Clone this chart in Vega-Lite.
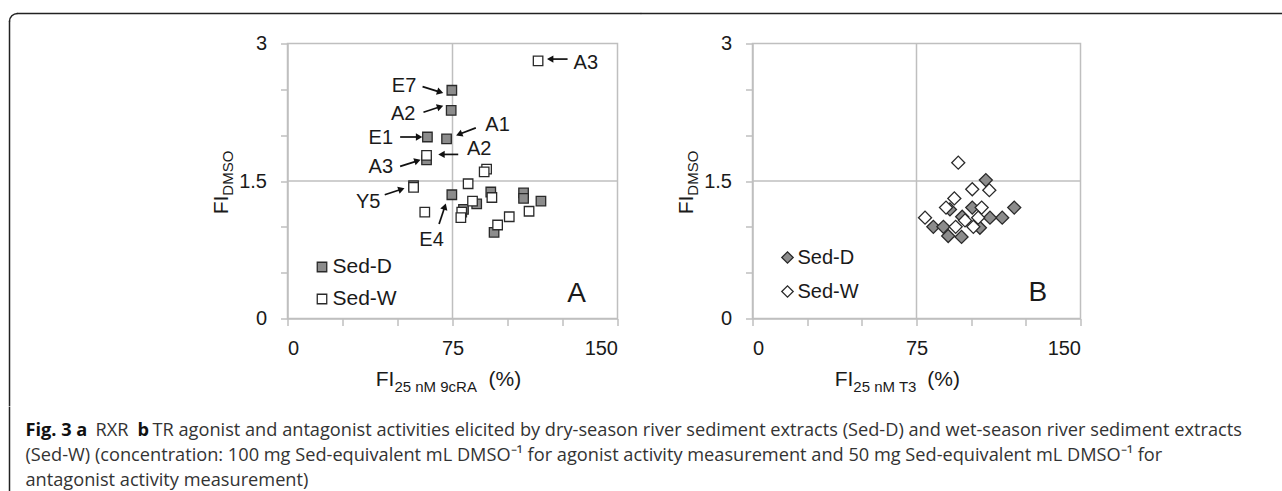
{
  "$schema": "https://vega.github.io/schema/vega-lite/v6.json",
  "padding": {"left": 7.5, "top": 11.5, "right": 0, "bottom": 0},
  "background": "white",
  "config": {
    "font": "Liberation Sans",
    "view": {"stroke": "#bfbfbf", "strokeWidth": 1.5},
    "axis": {
      "domainColor": "#bfbfbf", "domainWidth": 1.5, "tickColor": "#bfbfbf", "tickWidth": 1.5, "tickSize": 7,
      "labelFont": "Liberation Sans", "labelFontSize": 20, "labelColor": "#1a1a1a", "grid": false, "title": null
    },
    "axisX": {"labelPadding": 13},
    "axisY": {"labelPadding": 14},
    "legend": {
      "labelFont": "Liberation Sans", "labelFontSize": 21, "labelColor": "#1a1a1a",
      "symbolStrokeColor": "#2a2a2a", "symbolStrokeWidth": 1.3, "title": null
    }
  },
  "spacing": -3,
  "vconcat": [
    {
      "spacing": -3,
      "resolve": {"scale": {"fill": "independent", "x": "independent", "y": "independent"}, "legend": {"fill": "independent"}},
      "hconcat": [
        {
          "width": 330,
          "height": 275,
          "layer": [
            {
              "data": {"values": [{"x1": -122.73, "x2": 160.45, "y": 3.327}]},
              "mark": {"type": "rule", "color": "#222222", "strokeWidth": 1.5, "strokeCap": "square", "clip": false},
              "encoding": {"x": {"field": "x1", "type": "quantitative", "title": null}, "x2": {"field": "x2"}, "y": {"field": "y", "type": "quantitative", "title": null}}
            },
            {
              "data": {"values": [{"x": -126.36, "y1": 3.24, "y2": -0.949}]},
              "mark": {"type": "rule", "color": "#222222", "strokeWidth": 1.5, "strokeCap": "square", "clip": false},
              "encoding": {"x": {"field": "x", "type": "quantitative", "title": null}, "y": {"field": "y1", "type": "quantitative", "title": null}, "y2": {"field": "y2"}}
            },
            {
              "data": {"values": [{"x": -122.73, "y": 3.24}]},
              "mark": {"type": "arc", "color": "#222222", "radius": 8.75, "radius2": 7.25, "theta": 4.712389, "theta2": 6.283185, "clip": false},
              "encoding": {"x": {"field": "x", "type": "quantitative", "title": null}, "y": {"field": "y", "type": "quantitative", "title": null}}
            },
            {
              "data": {"values": [{"v": 75}]},
              "mark": {"type": "rule", "color": "#bfbfbf", "strokeWidth": 1.5},
              "encoding": {"x": {"field": "v", "type": "quantitative", "title": null, "scale": {"domain": [0, 150], "nice": false}}}
            },
            {
              "data": {"values": [{"v": 1.5}]},
              "mark": {"type": "rule", "color": "#bfbfbf", "strokeWidth": 1.5},
              "encoding": {"y": {"field": "v", "type": "quantitative", "title": null, "scale": {"domain": [0, 3], "nice": false}}}
            },
            {
              "data": {"values": [
                {"s": "Sed-D", "fi9": 74.7, "dmso": 2.49},
                {"s": "Sed-D", "fi9": 74.4, "dmso": 2.27},
                {"s": "Sed-D", "fi9": 63.6, "dmso": 1.98},
                {"s": "Sed-D", "fi9": 72.3, "dmso": 1.96},
                {"s": "Sed-D", "fi9": 63.2, "dmso": 1.73},
                {"s": "Sed-D", "fi9": 57.3, "dmso": 1.45},
                {"s": "Sed-D", "fi9": 74.7, "dmso": 1.35},
                {"s": "Sed-D", "fi9": 80.0, "dmso": 1.19},
                {"s": "Sed-D", "fi9": 86.0, "dmso": 1.25},
                {"s": "Sed-D", "fi9": 92.4, "dmso": 1.38},
                {"s": "Sed-D", "fi9": 107.3, "dmso": 1.37},
                {"s": "Sed-D", "fi9": 107.3, "dmso": 1.31},
                {"s": "Sed-D", "fi9": 115.2, "dmso": 1.28},
                {"s": "Sed-D", "fi9": 93.9, "dmso": 0.94},
                {"s": "Sed-W", "fi9": 113.9, "dmso": 2.81},
                {"s": "Sed-W", "fi9": 63.2, "dmso": 1.78},
                {"s": "Sed-W", "fi9": 90.5, "dmso": 1.63},
                {"s": "Sed-W", "fi9": 89.4, "dmso": 1.60},
                {"s": "Sed-W", "fi9": 57.3, "dmso": 1.43},
                {"s": "Sed-W", "fi9": 82.1, "dmso": 1.47},
                {"s": "Sed-W", "fi9": 92.9, "dmso": 1.32},
                {"s": "Sed-W", "fi9": 84.1, "dmso": 1.28},
                {"s": "Sed-W", "fi9": 79.2, "dmso": 1.16},
                {"s": "Sed-W", "fi9": 78.8, "dmso": 1.10},
                {"s": "Sed-W", "fi9": 62.4, "dmso": 1.16},
                {"s": "Sed-W", "fi9": 95.5, "dmso": 1.02},
                {"s": "Sed-W", "fi9": 100.8, "dmso": 1.11},
                {"s": "Sed-W", "fi9": 109.8, "dmso": 1.17}
              ]},
              "mark": {"type": "point", "shape": "square", "filled": true, "size": 90, "stroke": "#2a2a2a", "strokeWidth": 1.3, "opacity": 1},
              "encoding": {
                "x": {"field": "fi9", "type": "quantitative", "title": null, "scale": {"domain": [0, 150], "nice": false},
                  "axis": {"title": null, "values": [0, 25, 50, 75, 100, 125, 150], "labelExpr": "datum.value == 0 ? '0' : datum.value == 75 ? '75' : datum.value == 150 ? '150' : ''"}},
                "y": {"field": "dmso", "type": "quantitative", "title": null, "scale": {"domain": [0, 3], "nice": false},
                  "axis": {"title": null, "values": [0, 0.5, 1, 1.5, 2, 2.5, 3], "labelExpr": "datum.value == 0 ? '0' : datum.value == 1.5 ? '1.5' : datum.value == 3 ? '3' : ''"}},
                "fill": {"field": "s", "type": "nominal", "scale": {"domain": ["Sed-D", "Sed-W"], "range": ["#8c8c8c", "#ffffff"]},
                  "legend": {"orient": "none", "legendX": 24, "legendY": 213, "symbolType": "square", "symbolSize": 90, "rowPadding": 10, "labelOffset": 0}}
              }
            },
            {
              "data": {"values": [
                {"label": "E7", "tx": 53.0, "ty": 2.54, "x1": 61.4, "y1": 2.53, "x2": 69.4, "y2": 2.47},
                {"label": "A2", "tx": 52.6, "ty": 2.23, "x1": 61.8, "y1": 2.25, "x2": 69.4, "y2": 2.31},
                {"label": "E1", "tx": 42.4, "ty": 1.97, "x1": 51.2, "y1": 1.98, "x2": 59.8, "y2": 1.98},
                {"label": "A1", "tx": 95.5, "ty": 2.11, "x1": 85.6, "y1": 2.08, "x2": 78.0, "y2": 2.01},
                {"label": "A2", "tx": 87.1, "ty": 1.85, "x1": 77.6, "y1": 1.79, "x2": 70.0, "y2": 1.79},
                {"label": "A3", "tx": 42.4, "ty": 1.65, "x1": 51.2, "y1": 1.66, "x2": 59.1, "y2": 1.72},
                {"label": "Y5", "tx": 36.7, "ty": 1.27, "x1": 44.2, "y1": 1.35, "x2": 51.8, "y2": 1.41},
                {"label": "E4", "tx": 65.5, "ty": 0.86, "x1": 68.9, "y1": 1.03, "x2": 71.5, "y2": 1.22},
                {"label": "A3", "tx": 135.6, "ty": 2.79, "x1": 127.3, "y1": 2.83, "x2": 119.4, "y2": 2.83}
              ]},
              "layer": [
                {
                  "mark": {"type": "rule", "color": "#111111", "strokeWidth": 1.7},
                  "encoding": {
                    "x": {"field": "x1", "type": "quantitative", "title": null},
                    "y": {"field": "y1", "type": "quantitative", "title": null},
                    "x2": {"field": "x2"},
                    "y2": {"field": "y2"}
                  }
                },
                {
                  "mark": {"type": "point", "shape": "triangle-up", "filled": true, "color": "#111111", "size": 55, "opacity": 1,
                    "angle": {"expr": "atan2((datum.x2 - datum.x1) * 2.2, (datum.y2 - datum.y1) * 91.67) * 180 / PI"}},
                  "encoding": {
                    "x": {"field": "x2", "type": "quantitative", "title": null},
                    "y": {"field": "y2", "type": "quantitative", "title": null}
                  }
                },
                {
                  "mark": {"type": "text", "fontSize": 20, "color": "#1a1a1a", "clip": false},
                  "encoding": {
                    "x": {"field": "tx", "type": "quantitative", "title": null},
                    "y": {"field": "ty", "type": "quantitative", "title": null},
                    "text": {"field": "label"}
                  }
                }
              ]
            },
            {
              "data": {"values": [{"t": "A", "x": 131.4, "y": 0.27}]},
              "mark": {"type": "text", "fontSize": 28, "color": "#1a1a1a"},
              "encoding": {"x": {"field": "x", "type": "quantitative", "title": null}, "y": {"field": "y", "type": "quantitative", "title": null}, "text": {"field": "t"}}
            },
            {
              "data": {"values": [{"t": "FI", "x": -27, "y": 1.34}]},
              "mark": {"type": "text", "fontSize": 21, "color": "#1a1a1a", "angle": 270, "align": "right", "baseline": "alphabetic", "clip": false},
              "encoding": {"x": {"field": "x", "type": "quantitative", "title": null}, "y": {"field": "y", "type": "quantitative", "title": null}, "text": {"field": "t"}}
            },
            {
              "data": {"values": [{"t": "DMSO", "x": -27, "y": 1.34}]},
              "mark": {"type": "text", "fontSize": 15, "color": "#1a1a1a", "angle": 270, "align": "left", "baseline": "alphabetic", "dy": 5, "clip": false},
              "encoding": {"x": {"field": "x", "type": "quantitative", "title": null}, "y": {"field": "y", "type": "quantitative", "title": null}, "text": {"field": "t"}}
            },
            {
              "data": {"values": [{"t": "FI", "x": 48.6, "y": -0.74}]},
              "mark": {"type": "text", "fontSize": 21, "color": "#1a1a1a", "align": "right", "baseline": "alphabetic", "clip": false},
              "encoding": {"x": {"field": "x", "type": "quantitative", "title": null}, "y": {"field": "y", "type": "quantitative", "title": null}, "text": {"field": "t"}}
            },
            {
              "data": {"values": [{"t": "25 nM 9cRA", "x": 48.6, "y": -0.74}]},
              "mark": {"type": "text", "fontSize": 15, "color": "#1a1a1a", "align": "left", "baseline": "alphabetic", "dy": 6, "clip": false},
              "encoding": {"x": {"field": "x", "type": "quantitative", "title": null}, "y": {"field": "y", "type": "quantitative", "title": null}, "text": {"field": "t"}}
            },
            {
              "data": {"values": [{"t": "(%)", "x": 91.4, "y": -0.74}]},
              "mark": {"type": "text", "fontSize": 21, "color": "#1a1a1a", "align": "left", "baseline": "alphabetic", "clip": false},
              "encoding": {"x": {"field": "x", "type": "quantitative", "title": null}, "y": {"field": "y", "type": "quantitative", "title": null}, "text": {"field": "t"}}
            }
          ]
        },
        {
          "width": 328,
          "height": 275,
          "layer": [
            {
              "data": {"values": [{"x1": -50.76, "x2": 242.3, "y": 3.327}]},
              "mark": {"type": "rule", "color": "#222222", "strokeWidth": 1.5, "strokeCap": "square", "clip": false},
              "encoding": {"x": {"field": "x1", "type": "quantitative", "title": null}, "x2": {"field": "x2"}, "y": {"field": "y", "type": "quantitative", "title": null}}
            },
            {
              "data": {"values": [{"v": 75}]},
              "mark": {"type": "rule", "color": "#bfbfbf", "strokeWidth": 1.5},
              "encoding": {"x": {"field": "v", "type": "quantitative", "title": null, "scale": {"domain": [0, 150], "nice": false}}}
            },
            {
              "data": {"values": [{"v": 1.5}]},
              "mark": {"type": "rule", "color": "#bfbfbf", "strokeWidth": 1.5},
              "encoding": {"y": {"field": "v", "type": "quantitative", "title": null, "scale": {"domain": [0, 3], "nice": false}}}
            },
            {
              "data": {"values": [
                {"s": "Sed-D", "fit3": 106.7, "dmso": 1.51},
                {"s": "Sed-D", "fit3": 119.7, "dmso": 1.21},
                {"s": "Sed-D", "fit3": 114.2, "dmso": 1.10},
                {"s": "Sed-D", "fit3": 108.6, "dmso": 1.10},
                {"s": "Sed-D", "fit3": 100.5, "dmso": 1.21},
                {"s": "Sed-D", "fit3": 95.9, "dmso": 1.11},
                {"s": "Sed-D", "fit3": 82.7, "dmso": 1.00},
                {"s": "Sed-D", "fit3": 87.3, "dmso": 1.00},
                {"s": "Sed-D", "fit3": 89.5, "dmso": 0.90},
                {"s": "Sed-D", "fit3": 95.6, "dmso": 0.89},
                {"s": "Sed-D", "fit3": 104.0, "dmso": 0.99},
                {"s": "Sed-D", "fit3": 90.3, "dmso": 1.19},
                {"s": "Sed-W", "fit3": 94.1, "dmso": 1.70},
                {"s": "Sed-W", "fit3": 100.5, "dmso": 1.41},
                {"s": "Sed-W", "fit3": 108.3, "dmso": 1.40},
                {"s": "Sed-W", "fit3": 92.3, "dmso": 1.31},
                {"s": "Sed-W", "fit3": 88.5, "dmso": 1.21},
                {"s": "Sed-W", "fit3": 104.8, "dmso": 1.21},
                {"s": "Sed-W", "fit3": 78.9, "dmso": 1.10},
                {"s": "Sed-W", "fit3": 103.2, "dmso": 1.10},
                {"s": "Sed-W", "fit3": 92.9, "dmso": 1.00},
                {"s": "Sed-W", "fit3": 101.0, "dmso": 1.00},
                {"s": "Sed-W", "fit3": 97.2, "dmso": 1.07}
              ]},
              "mark": {"type": "point", "shape": "diamond", "filled": true, "size": 170, "stroke": "#2a2a2a", "strokeWidth": 1.3, "opacity": 1},
              "encoding": {
                "x": {"field": "fit3", "type": "quantitative", "title": null, "scale": {"domain": [0, 150], "nice": false},
                  "axis": {"title": null, "values": [0, 25, 50, 75, 100, 125, 150], "labelExpr": "datum.value == 0 ? '0' : datum.value == 75 ? '75' : datum.value == 150 ? '150' : ''"}},
                "y": {"field": "dmso", "type": "quantitative", "title": null, "scale": {"domain": [0, 3], "nice": false},
                  "axis": {"title": null, "values": [0, 0.5, 1, 1.5, 2, 2.5, 3], "labelExpr": "datum.value == 0 ? '0' : datum.value == 1.5 ? '1.5' : datum.value == 3 ? '3' : ''"}},
                "fill": {"field": "s", "type": "nominal", "scale": {"domain": ["Sed-D", "Sed-W"], "range": ["#8c8c8c", "#ffffff"]},
                  "legend": {"orient": "none", "legendX": 25, "legendY": 204, "symbolType": "diamond", "symbolSize": 130, "rowPadding": 14, "labelOffset": 0, "labelFontSize": 20}}
              }
            },
            {
              "data": {"values": [{"t": "B", "x": 130.5, "y": 0.28}]},
              "mark": {"type": "text", "fontSize": 28, "color": "#1a1a1a"},
              "encoding": {"x": {"field": "x", "type": "quantitative", "title": null}, "y": {"field": "y", "type": "quantitative", "title": null}, "text": {"field": "t"}}
            },
            {
              "data": {"values": [{"t": "FI", "x": -27, "y": 1.34}]},
              "mark": {"type": "text", "fontSize": 21, "color": "#1a1a1a", "angle": 270, "align": "right", "baseline": "alphabetic", "clip": false},
              "encoding": {"x": {"field": "x", "type": "quantitative", "title": null}, "y": {"field": "y", "type": "quantitative", "title": null}, "text": {"field": "t"}}
            },
            {
              "data": {"values": [{"t": "DMSO", "x": -27, "y": 1.34}]},
              "mark": {"type": "text", "fontSize": 15, "color": "#1a1a1a", "angle": 270, "align": "left", "baseline": "alphabetic", "dy": 5, "clip": false},
              "encoding": {"x": {"field": "x", "type": "quantitative", "title": null}, "y": {"field": "y", "type": "quantitative", "title": null}, "text": {"field": "t"}}
            },
            {
              "data": {"values": [{"t": "FI", "x": 46.1, "y": -0.74}]},
              "mark": {"type": "text", "fontSize": 21, "color": "#1a1a1a", "align": "right", "baseline": "alphabetic", "clip": false},
              "encoding": {"x": {"field": "x", "type": "quantitative", "title": null}, "y": {"field": "y", "type": "quantitative", "title": null}, "text": {"field": "t"}}
            },
            {
              "data": {"values": [{"t": "25 nM T3", "x": 46.1, "y": -0.74}]},
              "mark": {"type": "text", "fontSize": 15, "color": "#1a1a1a", "align": "left", "baseline": "alphabetic", "dy": 6, "clip": false},
              "encoding": {"x": {"field": "x", "type": "quantitative", "title": null}, "y": {"field": "y", "type": "quantitative", "title": null}, "text": {"field": "t"}}
            },
            {
              "data": {"values": [{"t": "(%)", "x": 79.9, "y": -0.74}]},
              "mark": {"type": "text", "fontSize": 21, "color": "#1a1a1a", "align": "left", "baseline": "alphabetic", "clip": false},
              "encoding": {"x": {"field": "x", "type": "quantitative", "title": null}, "y": {"field": "y", "type": "quantitative", "title": null}, "text": {"field": "t"}}
            }
          ]
        }
      ]
    },
    {
      "width": 994,
      "height": 83,
      "view": {"stroke": "transparent"},
      "layer": [
        {
          "data": {"values": [{"v": -27.968}]},
          "mark": {"type": "rule", "color": "#222222", "strokeWidth": 1.5, "strokeCap": "square", "clip": false},
          "encoding": {"x": {"field": "v", "type": "quantitative", "scale": {"domain": [0, 100]}, "axis": null}}
        },
        {
          "data": {"values": [
            {"p": -26.358, "l": 1, "t": "Fig. 3 a"},
            {"p": -15.091, "l": 1, "t": "b"}
          ]},
          "mark": {"type": "text", "font": "Open Sans", "fontWeight": "bold", "fontSize": 18.2, "color": "#111111", "align": "left", "baseline": "middle", "clip": false},
          "encoding": {
            "x": {"field": "p", "type": "quantitative", "scale": {"domain": [0, 100]}, "axis": null},
            "y": {"field": "l", "type": "quantitative", "scale": {"domain": [0.098, 3.353], "reverse": true}, "axis": null},
            "text": {"field": "t"}
          }
        },
        {
          "data": {"values": [
            {"p": -19.316, "l": 1, "t": "RXR"},
            {"p": -13.581, "l": 1, "t": "TR agonist and antagonist activities elicited by dry-season river sediment extracts (Sed-D) and wet-season river sediment extracts"},
            {"p": -26.358, "l": 2, "t": "(Sed-W) (concentration: 100 mg Sed-equivalent mL DMSO⁻¹ for agonist activity measurement and 50 mg Sed-equivalent mL DMSO⁻¹ for"},
            {"p": -26.358, "l": 3, "t": "antagonist activity measurement)"}
          ]},
          "mark": {"type": "text", "font": "Open Sans", "fontSize": 18.2, "color": "#333333", "align": "left", "baseline": "middle", "clip": false},
          "encoding": {
            "x": {"field": "p", "type": "quantitative", "scale": {"domain": [0, 100]}, "axis": null},
            "y": {"field": "l", "type": "quantitative", "scale": {"domain": [0.098, 3.353], "reverse": true}, "axis": null},
            "text": {"field": "t"}
          }
        }
      ]
    }
  ]
}
